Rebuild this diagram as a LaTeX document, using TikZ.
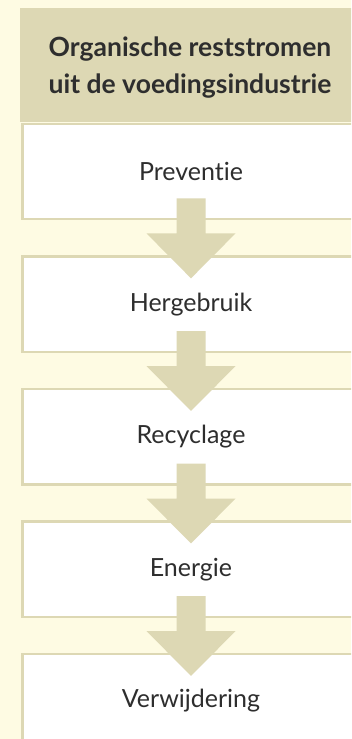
\documentclass[tikz,border=0pt]{standalone}
\usepackage{fontspec}
\setmainfont{Lato}[Ligatures={NoCommon}]
\usetikzlibrary{calc}
\definecolor{bg}{HTML}{FEFBE3}
\definecolor{tan}{HTML}{DDD8B4}
\definecolor{txt}{HTML}{2E2E2E}
\tikzset{
  stage/.style={draw=tan, line width=2.4pt, fill=white, anchor=north west,
    minimum width=337pt, minimum height=95.5pt, inner sep=0pt,
    font=\fontsize{25}{30}\selectfont, text=txt},
  flowarrow/.style={fill=tan, draw=none}
}
\newcommand{\flowarr}[2]{%
  \fill[flowarrow] ($(#1.south)+(-14.5pt,22pt)$) -- ($(#1.south)+(14.5pt,22pt)$)
    -- ($(#1.south)+(14.5pt,-13pt)$) -- ($(#1.south)+(44.5pt,-13pt)$)
    -- ($(#2.north)+(0pt,-23pt)$)
    -- ($(#1.south)+(-44.5pt,-13pt)$) -- ($(#1.south)+(-14.5pt,-13pt)$) -- cycle;}
\begin{document}
\begin{tikzpicture}[x=1pt,y=-1pt]
\fill[bg] (0,0) rectangle (351,739);
\useasboundingbox (0,0) rectangle (351,739);
\begin{scope}
\clip (0,0) rectangle (351,739);
\node[fill=tan, anchor=north west, minimum width=340pt, minimum height=114pt, inner sep=0pt] (head) at (20,8) {};
\node[align=center, font=\bfseries\fontsize{26.5}{37}\selectfont, text=txt, inner sep=0pt] (headtext) at (190,68)
  {Organische reststromen\\uit de voedingsindustrie};
\node[stage] (b1) at (21.3,122.5) {Preventie};
\node[stage] (b2) at (21.3,255.3) {Hergebruik};
\node[stage] (b3) at (21.3,387.8) {Recyclage};
\node[stage] (b4) at (21.3,520.3) {Energie};
\node[stage, minimum height=120pt] (b5) at (21.3,652.8) {};
\node[font=\fontsize{25}{30}\selectfont, text=txt] (t5) at ($(b5.north)+(0,48)$) {Verwijdering};
\flowarr{b1}{b2}
\flowarr{b2}{b3}
\flowarr{b3}{b4}
\flowarr{b4}{b5}
\end{scope}
\end{tikzpicture}
\end{document}
